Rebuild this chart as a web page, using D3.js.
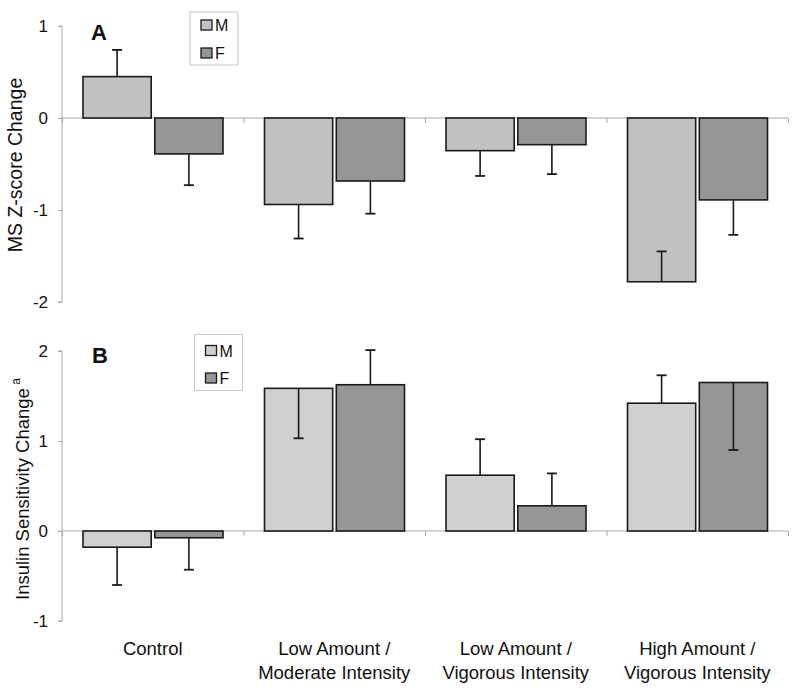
<!DOCTYPE html>
<html><head><meta charset="utf-8">
<script src="https://cdn.jsdelivr.net/npm/d3@7"></script>
<style>body{margin:0;background:#fff}svg{display:block}text{font-family:"Liberation Sans",Arial,sans-serif;fill:#111}</style>
</head><body>
<script>
const categories = [["Control"],["Low Amount /","Moderate Intensity"],["Low Amount /","Vigorous Intensity"],["High Amount /","Vigorous Intensity"]];
const seriesNames = ["M","F"];
// Panel A: MS Z-score change
const msM = [0.45, -0.94, -0.355, -1.78];
const msF = [-0.39, -0.685, -0.29, -0.89];
const msMErr = [0.74, -1.31, -0.63, -1.45];
const msFErr = [-0.73, -1.04, -0.61, -1.27];
const msTicks = [1, 0, -1, -2];
// Panel B: Insulin sensitivity change
const isM = [-0.18, 1.585, 0.62, 1.42];
const isF = [-0.075, 1.625, 0.28, 1.65];
const isMErr = [-0.60, 1.03, 1.02, 1.73];
const isFErr = [-0.43, 2.01, 0.64, 0.90];
const isTicks = [2, 1, 0, -1];

const W = 800, H = 691;
const FONT = '"Liberation Sans",Arial,sans-serif';
const svg = d3.select("body").append("svg").attr("width", W).attr("height", H);

const x0 = d3.scaleBand().domain(d3.range(categories.length)).range([62, 788]).paddingInner(0).paddingOuter(0);
const x1 = d3.scaleBand().domain(seriesNames).range([21, 161]).paddingInner(0.05);

function panel(o) {
  const y = d3.scaleLinear().domain(o.domain).range(o.range);
  const g = svg.append("g");
  const ya = g.append("g").attr("transform", "translate(62,0)")
    .call(d3.axisLeft(y).tickValues(o.ticks).tickSize(4).tickPadding(10).tickFormat(d => String(d)));
  ya.select(".domain").attr("stroke", "#a8a8a8").attr("d", `M-4,${y(o.domain[1])}H0V${y(o.domain[0])}H-4`);
  ya.selectAll(".tick line").attr("stroke", "#a8a8a8");
  ya.selectAll(".tick text").attr("font-size", 17).attr("fill", "#111").attr("dy", "0.35em").style("font-family", FONT);
  const xa = g.append("g").attr("transform", `translate(0,${y(0)})`)
    .call(d3.axisBottom(d3.scaleLinear().domain([0, 4]).range([62, 788])).tickValues([0,1,2,3,4]).tickSize(5).tickFormat(""));
  xa.select(".domain").attr("stroke", "#a8a8a8").attr("d", "M62,0H788");
  xa.selectAll(".tick line").attr("stroke", "#a8a8a8");
  const data = [];
  categories.forEach((c, i) => {
    data.push({i, s: "M", v: o.m[i], e: o.me[i], fill: o.mFill});
    data.push({i, s: "F", v: o.f[i], e: o.fe[i], fill: "#969696"});
  });
  g.selectAll("rect.bar").data(data).join("rect").attr("class", "bar")
    .attr("x", d => x0(d.i) + x1(d.s)).attr("width", x1.bandwidth())
    .attr("y", d => y(Math.max(0, d.v))).attr("height", d => Math.abs(y(d.v) - y(0)))
    .attr("fill", d => d.fill).attr("stroke", "#1a1a1a").attr("stroke-width", 1.6);
  const eb = g.selectAll("g.err").data(data).join("g").attr("class", "err");
  const cx = d => x0(d.i) + x1(d.s) + x1.bandwidth()/2;
  eb.append("line").attr("x1", cx).attr("x2", cx)
    .attr("y1", d => y(d.v)).attr("y2", d => y(d.e)).attr("stroke", "#1a1a1a").attr("stroke-width", 1.6);
  eb.append("line").attr("x1", d => cx(d) - 5).attr("x2", d => cx(d) + 5)
    .attr("y1", d => y(d.e)).attr("y2", d => y(d.e)).attr("stroke", "#1a1a1a").attr("stroke-width", 1.8);
  g.append("text").attr("x", o.letterX).attr("y", o.letterY).attr("font-size", 22).attr("font-weight", "bold").text(o.letter);
  const lg = g.append("g").attr("transform", `translate(${o.lx},${o.ly})`);
  lg.append("rect").attr("width", 48).attr("height", o.lh).attr("fill", "#fff").attr("stroke", "#c8c8c8");
  [["M", o.mFill], ["F", "#969696"]].forEach((s, k) => {
    const yy = o.sy[k];
    lg.append("rect").attr("x", 11).attr("y", yy).attr("width", 11).attr("height", 10).attr("fill", s[1]).attr("stroke", "#1a1a1a").attr("stroke-width", 1.3);
    lg.append("text").attr("x", 25).attr("y", yy + 11).attr("font-size", 16).text(s[0]);
  });
  const yl = g.append("text").attr("transform", `translate(${o.ylx},${o.yly}) rotate(-90)`).attr("text-anchor", o.anchor).attr("font-size", o.ylfs);
  yl.append("tspan").text(o.ylabel);
  if (o.sup) yl.append("tspan").attr("dy", -9).attr("font-size", 12).text(" " + o.sup);
  return y;
}

panel({domain: [-2, 1], range: [302, 26], ticks: msTicks, m: msM, f: msF, me: msMErr, fe: msFErr, mFill: "#c2c2c2",
  letter: "A", letterX: 91, letterY: 40, lx: 190, ly: 12, lh: 53, sy: [8, 36], ylabel: "MS Z-score Change", ylx: 22, yly: 165, anchor: "middle", ylfs: 19.5});
panel({domain: [-1, 2], range: [621, 351], ticks: isTicks, m: isM, f: isF, me: isMErr, fe: isFErr, mFill: "#d0d0d0",
  letter: "B", letterX: 92, letterY: 363, lx: 194.5, ly: 334.5, lh: 56, sy: [11, 38.5], ylabel: "Insulin Sensitivity Change", sup: "a", ylx: 29, yly: 600, anchor: "start", ylfs: 18.5});

categories.forEach((c, i) => {
  const t = svg.append("text").attr("text-anchor", "middle").attr("font-size", 18.5).attr("y", 654.5);
  c.forEach((line, k) => t.append("tspan").attr("x", x0(i) + x0.bandwidth()/2).attr("dy", k ? 24 : 0).text(line));
});
</script>
</body></html>
